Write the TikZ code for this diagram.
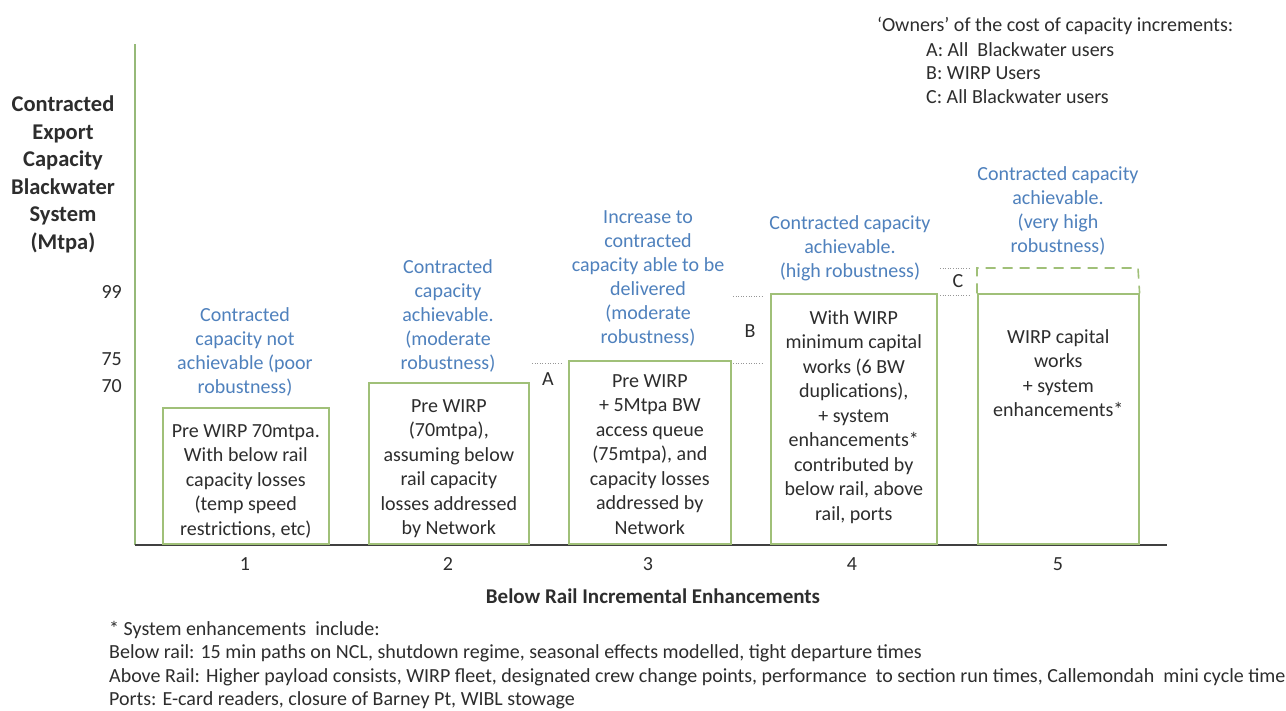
\documentclass[tikz,border=0pt]{standalone}
\usepackage{fontspec}
\setmainfont{Carlito}
\definecolor{lblue}{RGB}{79,129,189}
\definecolor{tgray}{RGB}{45,45,45}
\definecolor{bgreen}{RGB}{160,192,120}
\definecolor{agreen}{RGB}{150,185,120}
\definecolor{dgray}{RGB}{150,150,150}
\tikzset{
  bar/.style={draw=bgreen, line width=1.6pt, anchor=south west, inner sep=0},
  bluetxt/.style={text=lblue, align=center, font=\fontsize{20}{24}\selectfont, inner sep=0, anchor=north},
  boxtxt/.style={text=tgray, align=center, font=\fontsize{20}{24.5}\selectfont, inner sep=0, anchor=north},
  plain/.style={text=tgray, font=\fontsize{20}{24}\selectfont, inner sep=0},
  dotline/.style={draw=dgray, line width=0.6pt, dotted},
}
\begin{document}
\begin{tikzpicture}[x=1pt,y=-1pt]
\useasboundingbox[fill=white] (0,0) rectangle (1286,711);
% axes
\coordinate (o) at (135,545);
\coordinate (ytop) at (135,44);
\coordinate (xend) at (1167,545);
\draw[agreen, line width=2pt] (o) -- (ytop);
\draw[black!75, line width=2pt] (o) -- (xend);
% bars
\node[bar, minimum width=166pt, minimum height=136pt] (b1) at (162,545) {};
\node[bar, minimum width=160pt, minimum height=161pt] (b2) at (368,545) {};
\node[bar, minimum width=162pt, minimum height=183pt] (b3) at (568,545) {};
\node[bar, minimum width=166pt, minimum height=250pt] (b4) at (770,545) {};
\node[bar, minimum width=161pt, minimum height=250pt] (b5) at (977,545) {};
% dashed increment on bar 5
\coordinate (d5l) at (977,268);
\coordinate (d5r) at (1138,268);
\draw[bgreen, line width=1.6pt, dash pattern=on 10pt off 7pt] (b5.north west) -- (d5l) -- (d5r) -- (b5.north east);
% dotted guide lines
\coordinate (a1) at (532,363); \coordinate (a2) at (563,363);
\coordinate (a3) at (733,363); \coordinate (a4) at (763,363);
\coordinate (a5) at (733,296); \coordinate (a6) at (763,296);
\coordinate (a7) at (940,268); \coordinate (a8) at (970,268);
\coordinate (a9) at (940,295); \coordinate (a10) at (970,295);
\draw[dotline] (a1) -- (a2);
\draw[dotline] (a3) -- (a4);
\draw[dotline] (a5) -- (a6);
\draw[dotline] (a7) -- (a8);
\draw[dotline] (a9) -- (a10);
% increment letters
\node[plain] (la) at (548,379) {A};
\node[plain] (lb) at (750,331) {B};
\node[plain] (lc) at (958,281) {C};
% y axis title and ticks
\node[text=tgray, align=center, font=\bfseries\fontsize{22.5}{27.5}\selectfont, inner sep=0, anchor=north] (ytitle) at (63,96) {Contracted\\Export\\Capacity\\Blackwater\\System\\(Mtpa)};
\node[plain, anchor=east] (t99) at (122,292) {99};
\node[plain, anchor=east] (t75) at (122,359) {75};
\node[plain, anchor=east] (t70) at (122,386) {70};
% x labels
\node[plain] (x1) at (245,564) {1};
\node[plain] (x2) at (448,564) {2};
\node[plain] (x3) at (648,564) {3};
\node[plain] (x4) at (852,564) {4};
\node[plain] (x5) at (1058,564) {5};
\node[text=tgray, font=\bfseries\fontsize{21}{24}\selectfont, inner sep=0] (xtitle) at (653,596) {Below Rail Incremental Enhancements};
% blue labels
\node[bluetxt] (l1) at (245,307) {Contracted\\capacity not\\achievable (poor\\robustness)};
\node[bluetxt] (l2) at (448,259) {Contracted\\capacity\\achievable.\\(moderate\\robustness)};
\node[bluetxt] (l3) at (648,210) {Increase to\\contracted\\capacity able to be\\delivered\\(moderate\\robustness)};
\node[bluetxt] (l4) at (850,215) {Contracted capacity\\achievable.\\(high robustness)};
\node[bluetxt] (l5) at (1058,166) {Contracted capacity\\achievable.\\(very high\\robustness)};
% box texts
\node[boxtxt] (t1) at (b1.north |- 0,424) {Pre WIRP 70mtpa.\\With below rail\\capacity losses\\(temp speed\\restrictions, etc)};
\node[boxtxt] (t2) at (b2.north |- 0,399) {Pre WIRP\\(70mtpa),\\assuming below\\rail capacity\\losses addressed\\by Network};
\node[boxtxt] (t3) at (b3.north |- 0,374) {Pre WIRP\\+ 5Mtpa BW\\access queue\\(75mtpa), and\\capacity losses\\addressed by\\Network};
\node[boxtxt] (t4) at (b4.north |- 0,310) {With WIRP\\minimum capital\\works (6 BW\\duplications),\\+ system\\enhancements*\\contributed by\\below rail, above\\rail, ports};
\node[boxtxt] (t5) at (b5.north |- 0,329) {WIRP capital\\works\\+ system\\enhancements*};
% legend
\node[plain, anchor=north west, font=\fontsize{20}{23.5}\selectfont] (own) at (877,17) {‘Owners’ of the cost of capacity increments:};
\node[plain, anchor=north west, align=left, font=\fontsize{20}{23.5}\selectfont] (ownl) at (926,42) {A: All\ \ Blackwater users\\B: WIRP Users\\C: All Blackwater users};
% footnote
\node[plain, anchor=north west, align=left, font=\fontsize{20}{23.3}\selectfont] (foot) at (109,621) {* System enhancements\ \ include:\\Below rail: 15 min paths on NCL, shutdown regime, seasonal effects modelled, tight departure times\\Above Rail: Higher payload consists, WIRP fleet, designated crew change points, performance\ \ to section run times, Callemondah\ \ mini cycle time\\Ports: E-card readers, closure of Barney Pt, WIBL stowage};
\end{tikzpicture}
\end{document}
